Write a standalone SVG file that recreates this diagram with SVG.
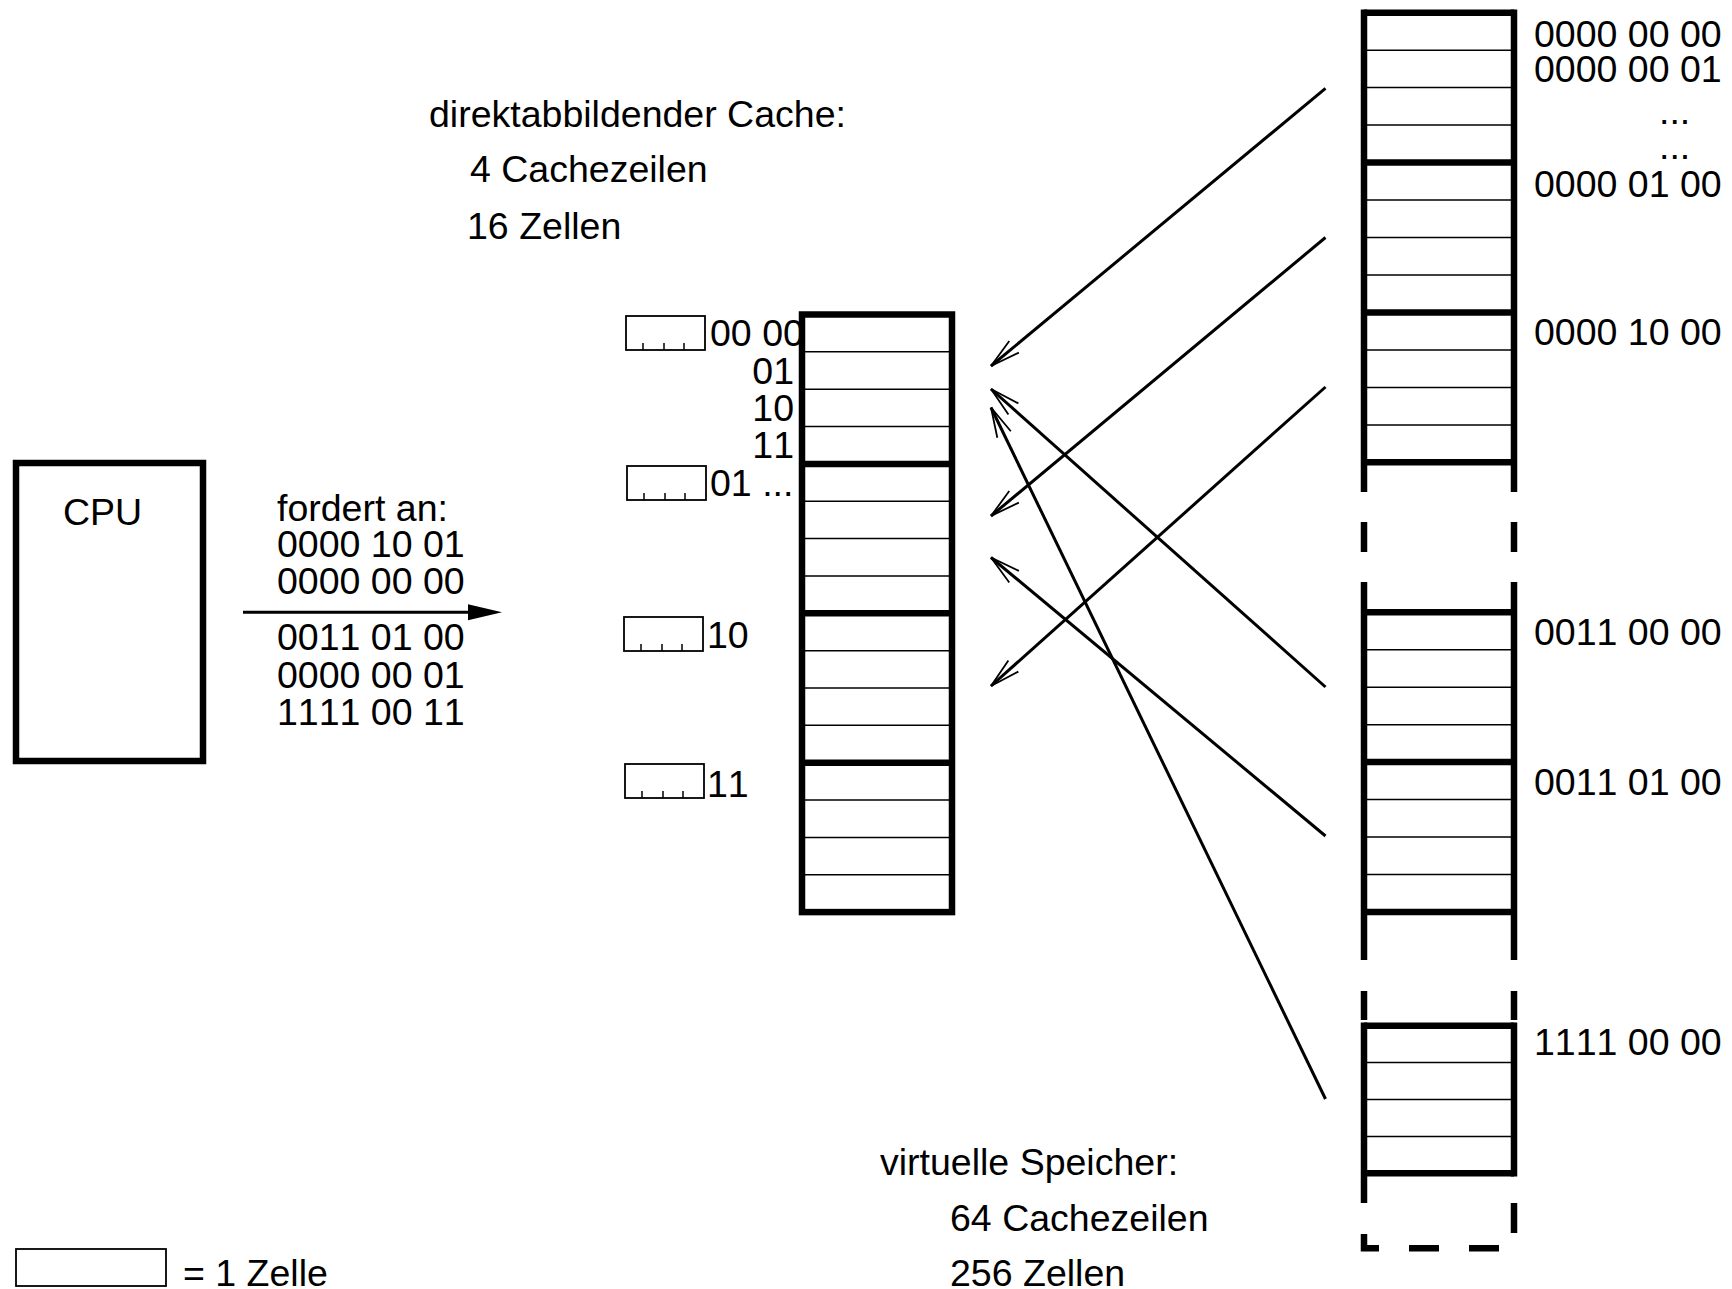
<svg xmlns="http://www.w3.org/2000/svg" width="1732" height="1289" viewBox="0 0 1732 1289">
<style>
text{font-family:"Liberation Sans",Arial,sans-serif;font-size:37.5px;fill:#000;font-kerning:none;font-feature-settings:"kern" 0}
.thick{stroke:#000;stroke-width:6.5;fill:none}
.thin{stroke:#000;stroke-width:1.5;fill:none}
.box{stroke:#000;stroke-width:1.8;fill:#fff}
.con{stroke:#000;stroke-width:3;fill:none}
</style>
<defs>
<marker id="open" markerUnits="userSpaceOnUse" viewBox="-34 -10 36 20" refX="0" refY="0" markerWidth="36" markerHeight="20" orient="auto" overflow="visible">
<path d="M-30,-7.5 L0,0 L-30,7.5" fill="none" stroke="#000" stroke-width="1.8"/>
</marker>
</defs>
<rect width="1732" height="1289" fill="#fff"/>

<g id="cache-title">
<text x="429" y="126.5">direktabbildender Cache:</text>
<text x="470" y="181.5">4 Cachezeilen</text>
<text x="467" y="238.5">16 Zellen</text>
</g>

<g id="cpu">
<rect x="16" y="463" width="187" height="298" class="thick" fill="#fff"/>
<text x="63" y="524.5" font-size="36">CPU</text>
</g>

<g id="request">
<text x="277" y="520.5">fordert an:</text>
<text x="277" y="556.5">0000 10 01</text>
<text x="277" y="593.5">0000 00 00</text>
<text x="277" y="649.5">0011 01 00</text>
<text x="277" y="687.5">0000 00 01</text>
<text x="277" y="724.5">1111 00 11</text>
</g>

<g id="tags">
<g id="tag0">
<rect x="626" y="316" width="79" height="34" class="box"/>
<path d="M643,343V350M664,343V350M684,343V350" class="thin"/>
<text x="710" y="346">00 00</text>
<text x="794" y="384" text-anchor="end">01</text>
<text x="794" y="421" text-anchor="end">10</text>
<text x="794" y="458" text-anchor="end">11</text>
</g>
<g id="tag1">
<rect x="627" y="466" width="79" height="34" class="box"/>
<path d="M644,493V500M665,493V500M685,493V500" class="thin"/>
<text x="710" y="495.5">01 ...</text>
</g>
<g id="tag2">
<rect x="624" y="617" width="79" height="34" class="box"/>
<path d="M641,644V651M662,644V651M682,644V651" class="thin"/>
<text x="707" y="647.5">10</text>
</g>
<g id="tag3">
<rect x="625" y="764" width="79" height="34" class="box"/>
<path d="M642,791V798M663,791V798M683,791V798" class="thin"/>
<text x="707" y="796.5">11</text>
</g>
</g>

<g id="cache">
<rect x="802" y="314.5" width="150" height="597.6" fill="#fff"/>
<path class="thin" d="M802,351.85H952M802,389.2H952M802,426.55H952M802,501.25H952M802,538.6H952M802,575.95H952M802,650.65H952M802,688H952M802,725.35H952M802,800.05H952M802,837.4H952M802,874.75H952"/>
<path class="thick" d="M802,463.9H952M802,613.3H952M802,762.7H952"/>
<rect x="802" y="314.5" width="150" height="597.6" class="thick"/>
</g>

<g id="memory">
<g id="mem-block-a">
<path class="thin" d="M1364,50.2H1514M1364,87.6H1514M1364,125.1H1514M1364,200.1H1514M1364,237.5H1514M1364,275H1514M1364,350H1514M1364,387.4H1514M1364,424.9H1514"/>
<path class="thick" d="M1364,12.7H1514M1364,162.6H1514M1364,312.5H1514M1364,462.3H1514"/>
<path class="thick" d="M1364,9.5V492M1514,9.5V492"/>
</g>
<path class="thick" d="M1364,522V552M1514,522V552"/>
<g id="mem-block-b">
<path class="thin" d="M1364,649.8H1514M1364,687.2H1514M1364,724.7H1514M1364,799.6H1514M1364,837H1514M1364,874.5H1514"/>
<path class="thick" d="M1364,612.3H1514M1364,762.1H1514M1364,912H1514"/>
<path class="thick" d="M1364,582V960M1514,582V960"/>
</g>
<path class="thick" d="M1364,991V1020M1514,991V1020"/>
<g id="mem-block-c">
<path class="thin" d="M1364,1062.6H1514M1364,1099.5H1514M1364,1136.4H1514"/>
<path class="thick" d="M1364,1025.7H1514M1364,1173.3H1514"/>
<path class="thick" d="M1364,1022.5V1203M1514,1022.5V1176.5"/>
</g>
<path class="thick" d="M1514,1203V1233M1364,1234V1248.3H1379M1409,1248.3H1439M1469,1248.3H1499"/>
</g>

<g id="memory-labels">
<text x="1534" y="46.5">0000 00 00</text>
<text x="1534" y="81.5">0000 00 01</text>
<text x="1659" y="124">...</text>
<text x="1659" y="159">...</text>
<text x="1534" y="196.5">0000 01 00</text>
<text x="1534" y="344.5">0000 10 00</text>
<text x="1534" y="644.5">0011 00 00</text>
<text x="1534" y="794.5">0011 01 00</text>
<text x="1534" y="1054.5">1111 00 00</text>
</g>

<g id="memory-title">
<text x="880" y="1174.5">virtuelle Speicher:</text>
<text x="950" y="1231">64 Cachezeilen</text>
<text x="950" y="1285.5">256 Zellen</text>
</g>

<g id="legend">
<rect x="16" y="1249" width="150" height="37" class="box"/>
<text x="183" y="1285.5">= 1 Zelle</text>
</g>

<g id="connectors">
<line x1="243" y1="612.3" x2="470" y2="612.3" class="con"/>
<path d="M468,604.3L502,612.3L468,620.3Z" fill="#000"/>
<line x1="1325.5" y1="88.4" x2="991" y2="366" class="con" marker-end="url(#open)"/>
<line x1="1325.5" y1="237.5" x2="991" y2="516" class="con" marker-end="url(#open)"/>
<line x1="1325.5" y1="387" x2="991" y2="686" class="con" marker-end="url(#open)"/>
<line x1="1325.5" y1="687" x2="991" y2="389" class="con" marker-end="url(#open)"/>
<line x1="1325.5" y1="836" x2="991" y2="557.5" class="con" marker-end="url(#open)"/>
<line x1="1325.5" y1="1099" x2="991" y2="407.5" class="con" marker-end="url(#open)"/>
</g>
</svg>
